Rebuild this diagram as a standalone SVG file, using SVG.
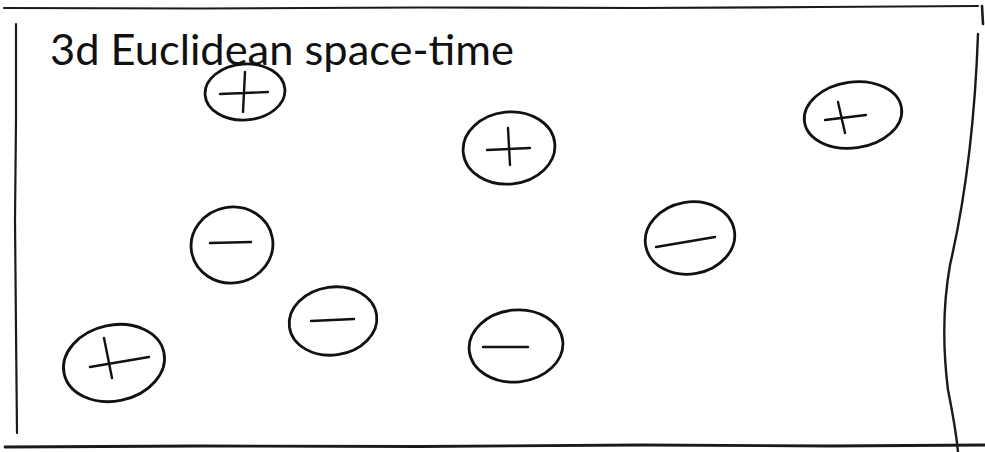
<svg xmlns="http://www.w3.org/2000/svg" width="985" height="452" viewBox="0 0 985 452">
<style>
.frame{fill:none;stroke:#1a1a1a;stroke-linecap:round;stroke-linejoin:round}
.ring{fill:none;stroke:#111;stroke-width:2.8;stroke-linecap:round}
.sign{fill:none;stroke:#111;stroke-width:2.4;stroke-linecap:round}
.title{font-family:Lato,"Open Sans","Liberation Sans",sans-serif;font-size:42px;fill:#111}
</style>
<rect width="985" height="452" fill="#fff"/>
<g id="frame">
<path class="frame" stroke-width="2.2" d="M4,8 L200,8.5 L420,7.5 L640,8 L820,7 L978,6"/>
<path class="frame" stroke-width="2.6" d="M982,6 L983,24"/>
<path class="frame" stroke-width="2.4" d="M978,34 C975,120 965,200 950,265 C942,310 943,350 948,390 C952,410 956,430 958,452"/>
<path class="frame" stroke-width="2.2" d="M16,24 L16,120 L15,220 L16,330 L17,433"/>
<path class="frame" stroke-width="2.8" d="M5,447 L200,446 L420,446.5 L640,445 L830,446 L985,445"/>
</g>
<g id="title">
<text class="title" x="50" y="65" textLength="464" lengthAdjust="spacingAndGlyphs">3d Euclidean space-time</text>
</g>
<g id="charge-plus-1">
<ellipse class="ring" cx="245" cy="92" rx="40" ry="28" transform="rotate(-4 245 92)"/>
<path class="sign" d="M245,72 L243,112 M220,94 L268,92"/>
</g>
<g id="charge-plus-2">
<ellipse class="ring" cx="509" cy="148" rx="46" ry="36" transform="rotate(-6 509 148)"/>
<path class="sign" d="M508,128 L510,165 M487,150 L530,148"/>
</g>
<g id="charge-plus-3">
<ellipse class="ring" cx="853" cy="115" rx="49" ry="33" transform="rotate(-8 853 115)"/>
<path class="sign" d="M838,102 L845,133 M825,120 L866,115"/>
</g>
<g id="charge-plus-4">
<ellipse class="ring" cx="114" cy="363" rx="51" ry="38" transform="rotate(-12 114 363)"/>
<path class="sign" d="M104,338 L112,378 M90,367 L149,357"/>
</g>
<g id="charge-minus-1">
<ellipse class="ring" cx="232" cy="245" rx="41" ry="38" transform="rotate(-10 232 245)"/>
<path class="sign" d="M210,243 L251,242"/>
</g>
<g id="charge-minus-2">
<ellipse class="ring" cx="333" cy="321" rx="44" ry="34" transform="rotate(-8 333 321)"/>
<path class="sign" d="M311,321 L354,319"/>
</g>
<g id="charge-minus-3">
<ellipse class="ring" cx="516" cy="346" rx="47" ry="36" transform="rotate(-6 516 346)"/>
<path class="sign" d="M483,347 L528,347"/>
</g>
<g id="charge-minus-4">
<ellipse class="ring" cx="690" cy="238" rx="45" ry="36" transform="rotate(-10 690 238)"/>
<path class="sign" d="M656,247 L715,237"/>
</g>
</svg>
